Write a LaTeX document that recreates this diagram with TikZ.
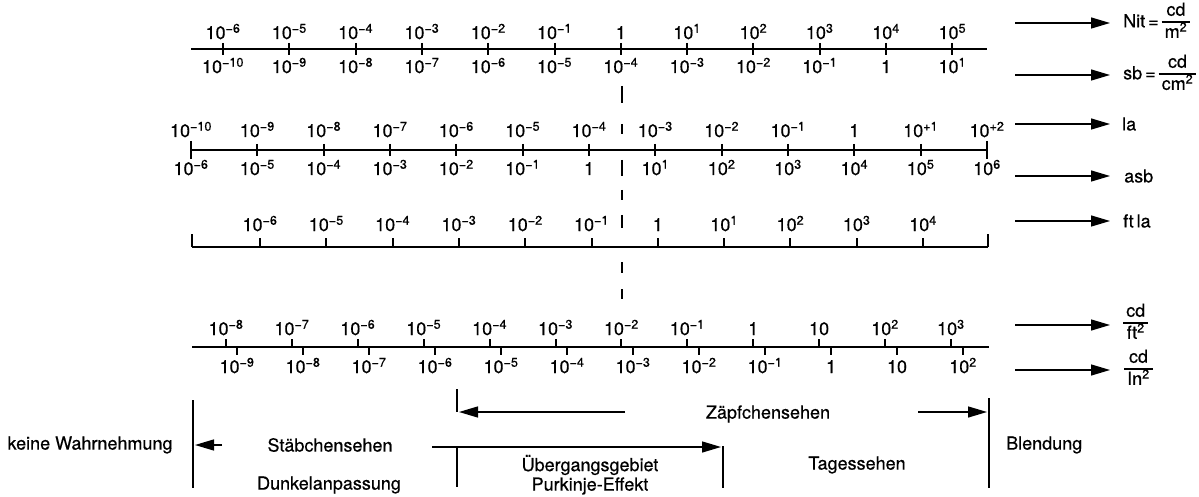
\documentclass[tikz,border=0pt]{standalone}
\usepackage{fontspec}
\setmainfont{TeX Gyre Heros}[FakeBold=0.5]
\usetikzlibrary{arrows.meta}
\newcommand{\ten}[1]{10\textsuperscript{#1}}
\newcommand{\frc}[2]{{\setlength{\arrayrulewidth}{1.2pt}\renewcommand{\arraystretch}{0.9}\begin{tabular}{@{\,}c@{\,}}#1\\\hline #2\end{tabular}}}
\tikzset{
  lbl/.style={font=\fontsize{18}{21}\selectfont, inner sep=0pt},
  scaleline/.style={line width=2.6pt},
  tickmark/.style={line width=2pt},
  arr/.style={line width=1.4pt, -{Triangle[length=19pt,width=11pt]}},
  barline/.style={line width=2.4pt},
  dashseg/.style={line width=2pt},
}
\begin{document}
\begin{tikzpicture}[x=1pt,y=-1pt]
\useasboundingbox (0,0) rectangle (1199,497);
% ---------- scale 1: Nit / sb
\draw[scaleline] (191,49) -- (987,49);
\foreach \i in {0,...,11} \draw[tickmark] ({223+66.3*\i},43) -- ({223+66.3*\i},55);
\foreach \t [count=\i from 0] in {\ten{−6},\ten{−5},\ten{−4},\ten{−3},\ten{−2},\ten{−1},1,\ten{1},\ten{2},\ten{3},\ten{4},\ten{5}}
  \node[lbl,anchor=base] (s1t\i) at ({223+66.3*\i},39) {\t};
\foreach \t [count=\i from 0] in {\ten{−10},\ten{−9},\ten{−8},\ten{−7},\ten{−6},\ten{−5},\ten{−4},\ten{−3},\ten{−2},\ten{−1},1,\ten{1}}
  \node[lbl,anchor=base] (s1b\i) at ({223+66.3*\i},73) {\t};
% ---------- scale 2: la / asb
\draw[scaleline] (191,150) -- (987,150);
\draw[tickmark] (191,141) -- (191,159);
\draw[tickmark] (987,141) -- (987,159);
\foreach \i in {1,...,11} \draw[tickmark] ({191+66.33*\i},144) -- ({191+66.33*\i},156);
\foreach \t [count=\i from 0] in {\ten{−10},\ten{−9},\ten{−8},\ten{−7},\ten{−6},\ten{−5},\ten{−4},\ten{−3},\ten{−2},\ten{−1},1,\ten{+1},\ten{+2}}
  \node[lbl,anchor=base] (s2t\i) at ({191+66.33*\i},137) {\t};
\foreach \t [count=\i from 0] in {\ten{−6},\ten{−5},\ten{−4},\ten{−3},\ten{−2},\ten{−1},1,\ten{1},\ten{2},\ten{3},\ten{4},\ten{5},\ten{6}}
  \node[lbl,anchor=base] (s2b\i) at ({191+66.33*\i},175) {\t};
% ---------- scale 3: ft la
\draw[scaleline] (192,247) -- (988,247);
\draw[tickmark] (192,247) -- (192,234);
\draw[tickmark] (988,247) -- (988,234);
\foreach \i in {0,...,10} \draw[tickmark] ({260+66.3*\i},247) -- ({260+66.3*\i},238);
\foreach \t [count=\i from 0] in {\ten{−6},\ten{−5},\ten{−4},\ten{−3},\ten{−2},\ten{−1},1,\ten{1},\ten{2},\ten{3},\ten{4}}
  \node[lbl,anchor=base] (s3t\i) at ({260+66.3*\i},231) {\t};
% ---------- scale 4: cd/ft2 , cd/in2
\draw[scaleline] (192,347) -- (989,347);
\foreach \i in {0,...,11} \draw[tickmark] ({226+65.9*\i},347) -- ({226+65.9*\i},339);
\foreach \i in {0,...,11} \draw[tickmark] ({237+66*\i},347) -- ({237+66*\i},355);
\foreach \t [count=\i from 0] in {\ten{−8},\ten{−7},\ten{−6},\ten{−5},\ten{−4},\ten{−3},\ten{−2},\ten{−1},1,10,\ten{2},\ten{3}}
  \node[lbl,anchor=base] (s4t\i) at ({226+65.9*\i},335) {\t};
\foreach \t [count=\i from 0] in {\ten{−9},\ten{−8},\ten{−7},\ten{−6},\ten{−5},\ten{−4},\ten{−3},\ten{−2},\ten{−1},1,10,\ten{2}}
  \node[lbl,anchor=base] (s4b\i) at ({237+66*\i},373) {\t};
% ---------- dashed reference line
\foreach \a/\b in {86/103,124/134,160/176,190/200,215/228,262/273,289/299}
  \draw[dashseg] (622,\a) -- (622,\b);
% ---------- unit arrows
\foreach \y/\n in {23/1,75/2,124/3,176/4,221/5,325/6,370/7}{
  \coordinate (us\n) at (1015,\y);
  \coordinate (ue\n) at (1110,\y);
  \draw[arr] (us\n) -- (ue\n);
}
\node[lbl,anchor=west] (u1) at (1123,23) {Nit\,=\,\frc{cd}{m\textsuperscript{2}}};
\node[lbl,anchor=west] (u2) at (1123,75) {sb\,=\,\frc{cd}{cm\textsuperscript{2}}};
\node[lbl,anchor=west] (u3) at (1122,124) {la};
\node[lbl,anchor=west] (u4) at (1124,176) {asb};
\node[lbl,anchor=west] (u5) at (1123,221) {ft\,la};
\node[lbl,anchor=west] (u6) at (1123,324) {\frc{cd}{ft\textsuperscript{2}}};
\node[lbl,anchor=west] (u7) at (1124,370) {\frc{cd}{In\textsuperscript{2}}};
% ---------- bottom: vision ranges
\coordinate (kwTop) at (193,400); \coordinate (kwBot) at (193,488);
\draw[barline] (kwTop) -- (kwBot);
\coordinate (kwArrS) at (222,445); \coordinate (kwArrE) at (195,445);
\draw[arr] (kwArrS) -- (kwArrE);
\node[lbl] (keine) at (90,445) {keine Wahrnehmung};
\node[lbl] (staeb) at (330,445) {Stäbchensehen};
\node[lbl] (dunkel) at (329,485) {Dunkelanpassung};
% Zapfchen range
\coordinate (zTop) at (457,389); \coordinate (zCorner) at (457,412);
\draw[barline] (zTop) -- (zCorner);
\coordinate (zLs) at (625,412);
\draw[arr] (zLs) -- (459,412);
\node[lbl] (zaepf) at (768,414) {Zäpfchensehen};
\coordinate (zRs) at (918,412); \coordinate (blTip) at (987,412);
\draw[arr] (zRs) -- (blTip);
\coordinate (blTop) at (989,398); \coordinate (blBot) at (989,488);
\draw[barline] (blTop) -- (blBot);
\node[lbl,anchor=west] (blend) at (1006,445) {Blendung};
% Ubergangsgebiet
\coordinate (uLs) at (432,447); \coordinate (uRe) at (721,447);
\draw[arr] (uLs) -- (uRe);
\coordinate (uLt) at (457,447); \coordinate (uLb) at (457,487);
\draw[barline] (uLt) -- (uLb);
\coordinate (uRt) at (723,446); \coordinate (uRb) at (723,488);
\draw[barline] (uRt) -- (uRb);
\node[lbl] (ueber) at (590,465) {Übergangsgebiet};
\node[lbl] (purk) at (590,486) {Purkinje-Effekt};
\node[lbl] (tages) at (857,465) {Tagessehen};
\end{tikzpicture}
\end{document}
